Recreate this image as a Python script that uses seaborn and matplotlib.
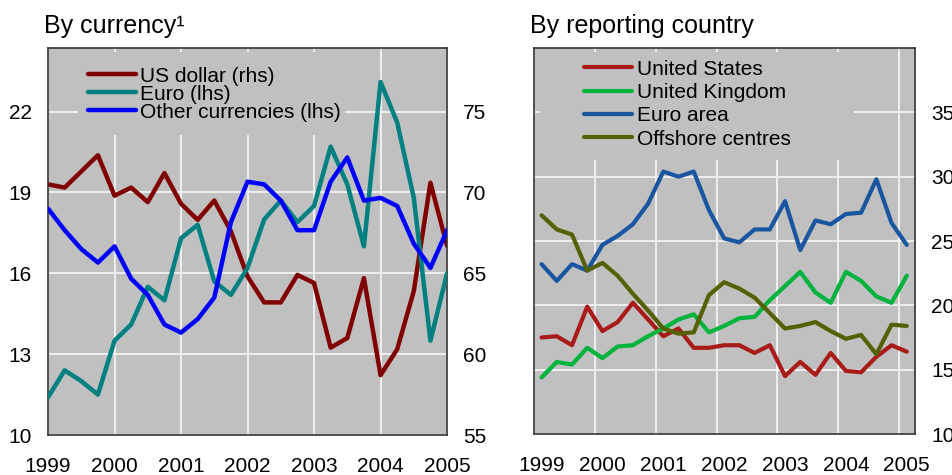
import numpy as np
import matplotlib.pyplot as plt
import seaborn as sns
from matplotlib.patches import Rectangle

# === DATA (quarterly) ===
# Left panel: by currency, x = quarter start
cur_quarters = np.arange(1999, 2005.01, 0.25)
us_dollar = [70.5, 70.3, 71.3, 72.3, 69.8, 70.3, 69.4, 71.2, 69.3, 68.3, 69.5, 67.6, 64.8,
             63.2, 63.2, 64.9, 64.4, 60.4, 61.0, 64.7, 58.7, 60.3, 63.9, 70.6, 66.7]   # rhs
euro = [11.4, 12.4, 12.0, 11.5, 13.5, 14.1, 15.5, 15.0, 17.3, 17.8, 15.7, 15.2, 16.2,
        18.0, 18.7, 17.9, 18.5, 20.7, 19.3, 17.0, 23.1, 21.6, 18.8, 13.5, 16.0]        # lhs
other = [18.4, 17.6, 16.9, 16.4, 17.0, 15.8, 15.2, 14.1, 13.8, 14.3, 15.1, 17.9, 19.4,
         19.3, 18.7, 17.6, 17.6, 19.4, 20.3, 18.7, 18.8, 18.5, 17.1, 16.2, 17.6]       # lhs

# Right panel: by reporting country, x = mid-quarter
rep_quarters = np.arange(1999.125, 2005.2, 0.25)
united_states = [17.5, 17.6, 16.9, 19.9, 18.0, 18.7, 20.2, 18.9, 17.6, 18.2, 16.7, 16.7, 16.9,
                 16.9, 16.3, 16.9, 14.5, 15.6, 14.6, 16.3, 14.9, 14.8, 16.0, 16.9, 16.4]
united_kingdom = [14.4, 15.6, 15.4, 16.7, 15.9, 16.8, 16.9, 17.6, 18.2, 18.9, 19.3, 17.9, 18.4,
                  19.0, 19.1, 20.4, 21.5, 22.6, 21.0, 20.2, 22.6, 21.9, 20.7, 20.2, 22.3]
euro_area = [23.2, 21.9, 23.2, 22.7, 24.7, 25.4, 26.3, 27.9, 30.4, 30.0, 30.4, 27.4, 25.2,
             24.9, 25.9, 25.9, 28.1, 24.3, 26.6, 26.3, 27.1, 27.2, 29.8, 26.4, 24.7]
offshore = [27.0, 25.9, 25.5, 22.7, 23.3, 22.3, 20.9, 19.6, 18.2, 17.8, 17.9, 20.8, 21.8,
            21.3, 20.6, 19.4, 18.2, 18.4, 18.7, 18.0, 17.4, 17.7, 16.2, 18.5, 18.4]

years = [1999, 2000, 2001, 2002, 2003, 2004, 2005]
year_labels = [str(y) for y in years]
lhs_ticks = [10, 13, 16, 19, 22]
rhs_ticks = [55, 60, 65, 70, 75]
rep_ticks = [10, 15, 20, 25, 30, 35]

# === STYLE ===
BG = '#C0C0C0'
SPINE = '#333333'
sns.set_theme(style='darkgrid', rc={'axes.facecolor': BG, 'grid.color': '#F2F2F2',
                                    'grid.linewidth': 1.3, 'text.color': 'black',
                                    'xtick.color': 'black', 'ytick.color': 'black'})
plt.rcParams['font.family'] = ['Liberation Sans', 'DejaVu Sans']

fig = plt.figure(figsize=(9.53, 4.75), dpi=100)
fig.patch.set_facecolor('white')


def style_spines(ax):
    for s in ax.spines.values():
        s.set_visible(True)
        s.set_color(SPINE)
        s.set_linewidth(1.2)


# === LEFT PANEL: by currency ===
ax_r = fig.add_axes([0.0504, 0.0842, 0.4187, 0.8147])
ax_l = ax_r.twinx()
ax_r.yaxis.tick_right()
ax_l.yaxis.tick_left()

sns.lineplot(x=cur_quarters, y=us_dollar, ax=ax_r, color='#800000', linewidth=3.2,
             label='US dollar (rhs)', legend=False)
sns.lineplot(x=cur_quarters, y=euro, ax=ax_l, color='#008080', linewidth=3.2,
             label='Euro (lhs)', legend=False)
sns.lineplot(x=cur_quarters, y=other, ax=ax_l, color='#0000FF', linewidth=3.2,
             label='Other currencies (lhs)', legend=False)

ax_r.set_xlim(1999, 2005)
ax_r.set_ylim(55, 78.93)
ax_l.set_ylim(10, 24.36)
ax_r.set_xticks(years, year_labels)
ax_r.set_yticks(rhs_ticks)
ax_l.set_yticks(lhs_ticks)
ax_l.grid(False)
ax_r.grid(True)
ax_r.set_axisbelow(True)
for a in (ax_r, ax_l):
    a.tick_params(axis='y', length=0, pad=11.5, labelsize=15, labelcolor='black')
    a.tick_params(axis='x', length=0, pad=16, labelsize=15, labelcolor='black')
    a.set_xlabel('')
    a.set_ylabel('')
style_spines(ax_r)
for s in ax_l.spines.values():
    s.set_visible(False)

ax_r.add_patch(Rectangle((0.075, 0.775), 0.669, 0.2145, transform=ax_r.transAxes,
                         facecolor=BG, edgecolor='none', zorder=1))
h1, l1 = ax_r.get_legend_handles_labels()
h2, l2 = ax_l.get_legend_handles_labels()
ax_l.legend(h1 + h2, l1 + l2, loc='upper left', bbox_to_anchor=(0.1003, 0.952),
            frameon=False, borderpad=0, borderaxespad=0, fontsize=15,
            handlelength=2.3, handletextpad=0.2, labelspacing=-0.045, labelcolor='black')

fig.text(44 / 953, 1 - 33.3 / 475, 'By currency\u00b9', fontsize=18, va='baseline',
         ha='left', color='black')

# === RIGHT PANEL: by reporting country ===
ax2 = fig.add_axes([0.5603, 0.0863, 0.3998, 0.8126])
ax2.yaxis.tick_right()
series = [('United States', united_states, '#A81B18'),
          ('United Kingdom', united_kingdom, '#00B33C'),
          ('Euro area', euro_area, '#1A56A0'),
          ('Offshore centres', offshore, '#556000')]
for name, vals, col in series:
    sns.lineplot(x=rep_quarters, y=vals, ax=ax2, color=col, linewidth=3.0,
                 label=name, legend=False)

ax2.set_xlim(1999, 2005.26)
ax2.set_ylim(10, 40)
ax2.set_xticks([y + 0.125 for y in years], year_labels)
ax2.set_xticks(years, minor=True)
ax2.set_yticks(rep_ticks)
ax2.grid(False)
ax2.grid(True, which='minor', axis='x')
ax2.grid(True, which='major', axis='y')
ax2.set_axisbelow(True)
ax2.tick_params(axis='y', length=0, pad=11.5, labelsize=15, labelcolor='black')
ax2.tick_params(axis='x', which='both', length=0, pad=16, labelsize=15, labelcolor='black')
ax2.set_xlabel('')
ax2.set_ylabel('')
style_spines(ax2)

ax2.add_patch(Rectangle((0.0157, 0.71), 0.824, 0.28, transform=ax2.transAxes,
                        facecolor=BG, edgecolor='none', zorder=1))
ax2.legend(loc='upper left', bbox_to_anchor=(0.131, 0.970), frameon=False,
           borderpad=0, borderaxespad=0, fontsize=15, handlelength=2.3,
           handletextpad=0.25, labelspacing=0.21, labelcolor='black')

fig.text(530 / 953, 1 - 33.3 / 475, 'By reporting country', fontsize=18, va='baseline',
         ha='left', color='black')

fig.savefig('out.png', dpi=100)
